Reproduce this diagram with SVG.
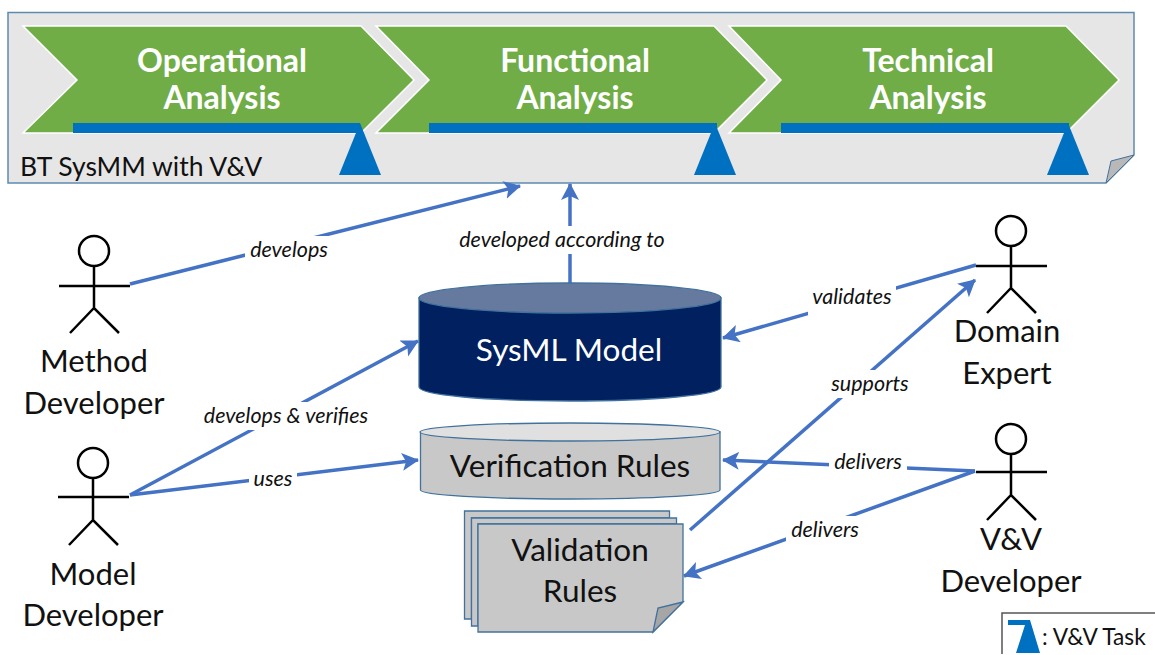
<svg xmlns="http://www.w3.org/2000/svg" width="1155" height="655" viewBox="0 0 1155 655">
<style>
text{font-family:"Lato","Liberation Sans",sans-serif;text-anchor:middle;fill:#111}
.phase{font-size:32px;font-weight:700;fill:#fff}
.chev{fill:#70ad47;stroke:#fff;stroke-width:1.5}
.bar{fill:#0070c0}
.big{font-size:31px}
.node{font-size:31.500px}
.lab{font-size:21.500px;font-style:italic}
.gap{fill:#fff}
.edge{fill:none;stroke:#4472c4;stroke-width:3.500}
.arr{marker-end:url(#head)}
.actor{fill:none;stroke:#000;stroke-width:2.5}
.ol{stroke:#41719c;stroke-width:1.3}
.grey{fill:#c8c8c8}
</style>
<defs>
<marker id="head" markerUnits="userSpaceOnUse" markerWidth="22" markerHeight="20" refX="16" refY="9" orient="auto">
<path d="M0,0 L17,9 L0,18 L4,9 Z" fill="#4472c4"/>
</marker>
</defs>
<rect width="1155" height="655" fill="#fff"/>
<g id="process">
<path d="M8,12.500H1134V155L1106,183H8Z" fill="#e6e6e6" stroke="#5f8ab0" stroke-width="1.500"/>
<path d="M1134,155L1111,161L1106,183Z" fill="#b8b8b8" stroke="#41719c" stroke-width="1"/>
<path class="chev" d="M23,26H361L414,80L361,133H23L77,80Z"/>
<path class="chev" d="M376,26H714L767,80L714,133H376L429,80Z"/>
<path class="chev" d="M729,26H1066L1119,80L1066,133H729L781,80Z"/>
<rect class="bar" x="73" y="123" width="287" height="10"/>
<rect class="bar" x="429" y="123" width="288" height="10"/>
<rect class="bar" x="781" y="123" width="288" height="10"/>
<path class="bar" d="M339,175L360,123L381,175Z"/>
<path class="bar" d="M694,175L715,123L736,175Z"/>
<path class="bar" d="M1047,175L1068,123L1089,175Z"/>
<text class="phase" x="222" y="72">Operational</text>
<text class="phase" x="222" y="109">Analysis</text>
<text class="phase" x="575" y="72">Functional</text>
<text class="phase" x="575" y="109">Analysis</text>
<text class="phase" x="928" y="72">Technical</text>
<text class="phase" x="928" y="109">Analysis</text>
<text x="20" y="176" style="text-anchor:start;font-size:26.500px">BT SysMM with V&amp;V</text>
</g>
<g id="connectors">
<path class="edge arr" d="M130,284L520,186"/>
<path class="edge arr" d="M570,283V184"/>
<path class="edge arr" d="M976,265L723,338"/>
<path class="edge arr" d="M130,495L418,341"/>
<path class="edge arr" d="M130,495L418,460"/>
<path class="edge arr" d="M690,530L975,280"/>
<path class="edge arr" d="M975,471L723,460"/>
<path class="edge arr" d="M975,471L684,576"/>
<rect class="gap" x="245" y="236" width="88" height="28"/>
<rect class="gap" x="452" y="226" width="220" height="28"/>
<rect class="gap" x="808" y="283" width="88" height="32"/>
<rect class="gap" x="198" y="402" width="176" height="28"/>
<rect class="gap" x="249" y="465" width="48" height="28"/>
<rect class="gap" x="826" y="370" width="88" height="28"/>
<rect class="gap" x="829" y="449" width="78" height="26"/>
<rect class="gap" x="786" y="516" width="78" height="28"/>
<text class="lab" x="289" y="257">develops</text>
<text class="lab" x="562" y="247">developed according to</text>
<text class="lab" x="852" y="304">validates</text>
<text class="lab" x="286" y="423">develops &amp; verifies</text>
<text class="lab" x="273" y="486">uses</text>
<text class="lab" x="870" y="391">supports</text>
<text class="lab" x="868" y="469">delivers</text>
<text class="lab" x="825" y="537">delivers</text>
</g>
<g id="sysml-model">
<path class="ol" d="M419,298V387C419,395 487,401 570,401S721,395 721,387V298Z" fill="#002060"/>
<ellipse class="ol" cx="570" cy="298" rx="151" ry="15" fill="#667a9f"/>
<text class="node" x="569" y="361" style="fill:#fff">SysML Model</text>
</g>
<g id="verification-rules">
<path class="ol" d="M420.500,432V490C420.500,495 487,499 570,499S720,495 720,490V432Z" fill="#c8c8c8"/>
<ellipse class="ol" cx="570" cy="432" rx="150" ry="9" fill="#e0e0e0"/>
<text class="node" x="570" y="477">Verification Rules</text>
</g>
<g id="validation-rules">
<path class="ol grey" d="M464.500,511H669.500V518H471.500V619H464.500Z"/>
<path class="ol grey" d="M471.500,518H676.500V524H478V626H471.500Z"/>
<path class="ol grey" d="M478,524H683V602L653,632H478Z"/>
<path class="ol" d="M683,602L658,608L653,632Z" fill="#a6a6a6"/>
<text class="node" x="580" y="561">Validation</text>
<text class="node" x="580" y="602">Rules</text>
</g>
<g id="method-developer">
<path class="actor" d="M94,266V308M59,286H130M70,333L94,308L119,333"/>
<circle class="actor" cx="94" cy="251" r="15"/>
<text class="big" x="94" y="372">Method</text>
<text class="big" x="94" y="414">Developer</text>
</g>
<g id="model-developer">
<path class="actor" d="M93,478V520M58,497H129M69,545L93,520L118,545"/>
<circle class="actor" cx="93" cy="463" r="15"/>
<text class="big" x="93" y="585">Model</text>
<text class="big" x="93" y="626">Developer</text>
</g>
<g id="domain-expert">
<path class="actor" d="M1011,246V288M976,266H1047M987,313L1011,288L1036,313"/>
<circle class="actor" cx="1011" cy="231" r="15"/>
<text class="big" x="1007" y="342">Domain</text>
<text class="big" x="1007" y="384">Expert</text>
</g>
<g id="vv-developer">
<path class="actor" d="M1011,454V495M976,472H1047M987,520L1011,495L1036,520"/>
<circle class="actor" cx="1011" cy="439" r="15"/>
<text class="big" x="1011" y="550">V&amp;V</text>
<text class="big" x="1011" y="592">Developer</text>
</g>
<g id="legend">
<path d="M1002,654V613H1155" fill="none" stroke="#555" stroke-width="1.500"/>
<path class="bar" d="M1008,620H1030L1040,653H1016L1025,625H1008Z"/>
<text x="1042" y="645" style="text-anchor:start;font-size:22.700px">: V&amp;V Task</text>
</g>
</svg>
